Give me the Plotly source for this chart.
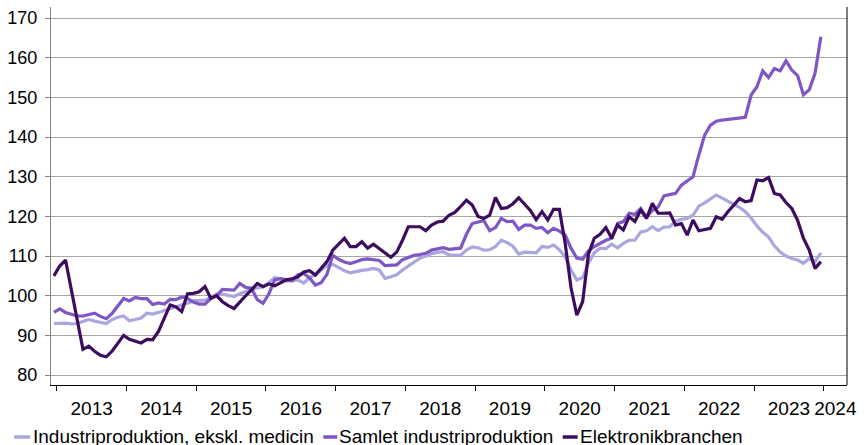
import plotly.graph_objects as go

# Monthly index values, Dec 2012 .. Dec 2023
start_year = 2012
start_month = 12

industri_ex_medicin = [
    93, 93.1, 93.1, 92.9, 93, 93.5, 94, 93.6, 93.2, 93, 94, 94.6,
    94.9, 93.7, 94, 94.4, 95.6, 95.4, 95.8, 96.4, 96.8, 97.2, 97.6, 98.1,
    98.7, 98.9, 98.9, 99.6, 100.5, 100.4, 100, 99.8, 100.5, 101.1, 101.6, 102,
    102.3, 103.3, 104.6, 104.2, 103.7, 103.8, 104, 103.2, 104.5, 105.3, 106.5, 107.7,
    107.9, 107, 106.3, 105.8, 106.2, 106.4, 106.6, 106.9, 106.5, 104.4, 104.8, 105.3,
    106.5, 107.5, 108.6, 109.5, 110, 110.6, 110.9, 111.1, 110.3, 110.2, 110.2, 111.5,
    112.3, 112.1, 111.5, 111.6, 112.4, 114, 113.4, 112.5, 110.5, 111, 110.9, 110.8,
    112.4, 112.2, 112.8, 111.6, 109.8, 106.5, 104, 104.6, 108.2, 110.8, 112, 111.9,
    113, 112.1, 113.2, 114, 114, 116.1, 116.4, 117.4, 116.4, 117.3, 117.4, 118.8,
    119.3, 119.5, 120.3, 122.6, 123.4, 124.5, 125.4, 124.6, 123.8, 122.9, 122.3, 121.2,
    119.6, 117.6, 116, 114.8, 112.6, 111, 110, 109.4, 109, 108.2, 109.4, 108.6,
    110.8,
]

samlet_industri = [
    95.8, 96.7, 95.8, 95.3, 94.9, 94.9, 95.3, 95.6, 94.8, 94.2, 95.5, 97.5,
    99.3, 98.7, 99.6, 99.3, 99.3, 97.8, 98.2, 97.9, 99.1, 99, 99.7, 99.3,
    98.4, 97.9, 97.9, 99.3, 100, 101.6, 101.4, 101.4, 103.1, 102.1, 101.9, 99,
    98.1, 100.5, 104, 104.3, 104.1, 103.8, 105.3, 105.6, 104.5, 102.7, 103.3, 105.4,
    110.2, 109.2, 108.5, 108.1, 108.6, 109.1, 109.3, 109.1, 108.9, 107.6, 107.6, 107.8,
    109.1, 109.7, 110.2, 110.4, 110.7, 111.5, 111.7, 112.1, 111.7, 111.8, 112, 115.5,
    118.2, 118.6, 118.9, 116.4, 117.2, 119.5, 118.7, 118.8, 116.7, 117.8, 117.8, 117,
    117.2, 115.9, 117, 116.3, 115.3, 112, 109.5, 109.2, 111.3, 112.4, 113.2, 114,
    114.5, 118.2, 118.7, 120.8, 120.5, 122, 119.8, 121.5, 122.4, 125.2, 125.5, 125.8,
    127.9, 129, 130, 135.5, 140.5, 143, 144, 144.3, 144.5, 144.7, 145, 145,
    150.6, 152.7, 156.7, 155, 157.3, 156.7, 159.2, 156.9, 155.5, 150.7, 151.9, 156.1,
    165.3,
]

elektronik = [
    105, 107.5, 109, 101.5, 94, 86.5, 87.3, 86, 85, 84.6, 86, 88,
    90, 89, 88.5, 88.1, 89, 88.9, 91, 94.5, 97.7, 97.2, 96, 100.5,
    100.6, 101, 102.3, 99.4, 100, 98.5, 97.5, 96.8, 98.5, 100, 101.5, 103.1,
    102.3, 103, 102.5, 103.3, 104, 104.3, 104.8, 106, 106.3, 105.2, 107, 108.6,
    111.5, 113, 114.5, 112.4, 112.4, 113.6, 112, 113, 111.8, 110.8, 109.7, 111,
    114, 117.4, 117.4, 117.4, 116.4, 117.8, 118.6, 118.8, 120.3, 121, 122.5, 124.1,
    122.9, 120, 119.5, 120.3, 124.8, 122, 122.2, 123.2, 124.7, 123, 121.5, 119.2,
    121.2, 119.1, 121.8, 121.8, 113.2, 102, 95.1, 98.5, 110.5, 114.5, 115.5, 117.2,
    114.5, 117.8, 116.6, 119.9, 118.7, 121.6, 119.5, 123.3, 120.8, 120.8, 120.9, 117.8,
    118.2, 115.3, 119.1, 116.4, 116.7, 117, 119.9, 119.3, 121.2, 123, 124.5, 123.7,
    124, 129.2, 129, 129.8, 125.8, 125.4, 123.5, 122, 119, 114.5, 111.5, 106.9,
    108.6,
]

series_names = ["Industriproduktion, ekskl. medicin", "Samlet industriproduktion", "Elektronikbranchen"]
series_colors = ["#aaa6e0", "#7e57c6", "#3c0c5e"]
year_labels = ["2013", "2014", "2015", "2016", "2017", "2018", "2019", "2020", "2021", "2022", "2023", "2024"]
y_ticks = [80, 90, 100, 110, 120, 130, 140, 150, 160, 170]

n = len(elektronik)
x_idx = list(range(n))
month_labels = []
for i in range(n):
    m = (start_month - 1 + i) % 12 + 1
    y = start_year + (start_month - 1 + i) // 12
    month_labels.append(f"{y}-{m:02d}")

# category axis: Dec 2012 at 0; 4 empty months after Dec 2023
x_min, x_max = -0.5, n - 1 + 4.5
boundaries = [0.5 + 12 * k for k in range(len(year_labels))]
label_pos = [b + 6 for b in boundaries[:-1]] + [(boundaries[-1] + x_max) / 2]

FONT = "Liberation Sans, Arial, sans-serif"

fig = go.Figure()
for name, vals, col in zip(series_names, [industri_ex_medicin, samlet_industri, elektronik], series_colors):
    fig.add_trace(go.Scatter(
        x=x_idx, y=vals, mode="lines", name=name,
        line=dict(color=col, width=3.2), customdata=month_labels,
        hovertemplate="%{customdata}: %{y}<extra>" + name + "</extra>",
        showlegend=False,
    ))

fig.update_layout(
    width=868, height=445,
    margin=dict(l=49, r=21, t=7, b=60),
    paper_bgcolor="white", plot_bgcolor="white",
    font=dict(family=FONT, color="#000000"),
    xaxis=dict(
        range=[x_min, x_max], tickmode="array", tickvals=label_pos, ticktext=year_labels,
        ticks="", showgrid=False, zeroline=False,
        showline=True, linecolor="#000000", linewidth=1,
        tickfont=dict(size=19, family=FONT), ticklabelstandoff=6,
        minor=dict(tickmode="array", tickvals=boundaries, ticks="outside", ticklen=5,
                   tickcolor="#000000", tickwidth=1, showgrid=False),
    ),
    yaxis=dict(
        range=[77.5, 172.8], tickmode="array", tickvals=y_ticks,
        ticks="outside", ticklen=5, tickcolor="#808080",
        showgrid=True, gridcolor="#a6a6a6", gridwidth=1, zeroline=False,
        showline=True, linecolor="#808080", linewidth=1,
        tickfont=dict(size=18, family=FONT), ticklabelstandoff=4,
    ),
)

# right border of plot area
fig.add_shape(type="line", xref="paper", yref="paper", x0=1, x1=1, y0=0, y1=1,
              line=dict(color="#000000", width=1))

# clipped title fragment at top
fig.add_annotation(text="2015=100", xref="paper", yref="paper", x=-49/798, y=(378 + 2) / 378,
                   xanchor="left", yanchor="bottom", showarrow=False,
                   font=dict(size=18, family=FONT, color="#808080"))

# manual legend
plot_w, plot_h = 798, 378
def px_x(p):
    return (p - 49) / plot_w
def px_y(p):
    return (385 - p) / plot_h

leg_items = [(12, 28, 30), (322, 336, 337), (562, 577, 578)]
for (lx0, lx1, tx), name, col in zip(leg_items, series_names, series_colors):
    fig.add_shape(type="line", xref="paper", yref="paper",
                  x0=px_x(lx0), x1=px_x(lx1), y0=px_y(437), y1=px_y(437),
                  line=dict(color=col, width=3.5))
    fig.add_annotation(text=name, xref="paper", yref="paper", x=px_x(tx), y=px_y(436),
                       xanchor="left", yanchor="middle", showarrow=False,
                       font=dict(size=19, family=FONT, color="#000000"), borderpad=0)

fig.write_html("out.html", config={"displayModeBar": False},
               post_script="document.body.style.margin='0';document.body.style.overflow='hidden';")
